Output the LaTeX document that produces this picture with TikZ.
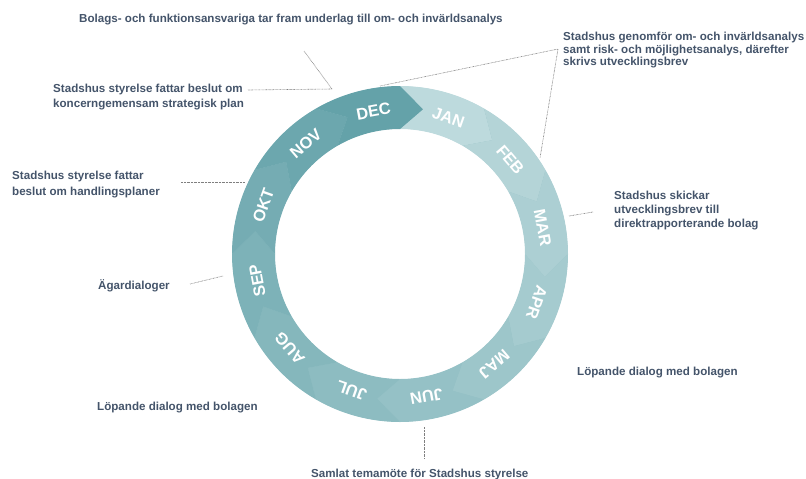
\documentclass[tikz,border=0pt]{standalone}
\usepackage{fontspec}
\setmainfont{Liberation Sans}
\usetikzlibrary{calc}
\definecolor{txt}{HTML}{44546A}
\definecolor{dotc}{HTML}{7F7F7F}
\definecolor{ringbase}{RGB}{150,194,199}
\begin{document}
\begin{tikzpicture}[x=1pt,y=1pt,
  lbl/.style={font=\fontsize{11.6}{14}\selectfont\bfseries, text=txt, inner sep=0pt, anchor=base west},
  mon/.style={font=\fontsize{16.4}{18}\selectfont\bfseries, text=white, inner sep=0pt},
  dots/.style={draw=dotc, line width=0.6pt, dash pattern=on 0.7pt off 0.7pt}]
\useasboundingbox (0,0) rectangle (806,-479);
\coordinate (C) at (400,-254);
% ring underlay (hides seams between segments)
\fill[ringbase, even odd rule] (C) circle[radius=167.6] (C) circle[radius=125.4];
% ring segments
\foreach \k/\m/\r/\g/\b in {0/JAN/189/218/221, 1/FEB/180/212/215, 2/MAR/172/207/211, 3/APR/165/203/207, 4/MAJ/157/198/202, 5/JUN/149/193/198, 6/JUL/141/188/193, 7/AUG/133/183/188, 8/SEP/125/178/184, 9/OKT/117/172/179, 10/NOV/108/167/174, 11/DEC/100/162/169} {
  \definecolor{segc}{RGB}{\r,\g,\b}
  \pgfmathsetmacro\aa{90-30*\k}
  \pgfmathsetmacro\ab{\aa-30}
  \fill[segc] ($(C)+(\aa:168)$) arc[start angle=\aa, end angle=\ab, radius=168]
     -- ($(C)+({\ab-9}:146.5)$) -- ($(C)+(\ab:125)$)
     arc[start angle=\ab, end angle=\aa, radius=125]
     -- ($(C)+({\aa-9}:146.5)$) -- cycle;
}
\foreach \k/\m in {0/JAN,1/FEB,2/MAR,3/APR,4/MAJ,5/JUN,6/JUL,7/AUG,8/SEP,9/OKT,10/NOV,11/DEC} {
  \pgfmathsetmacro\la{70.5-30*\k}
  \node[mon, rotate=\la-90] (m\m) at ($(C)+(\la:145)$) {\m};
}
% texts
\node[lbl] (top) at (79,-22) {Bolags- och funktionsansvariga tar fram underlag till om- och invärldsanalys};
\node[lbl] (gen1) at (563,-40) {Stadshus genomför om- och invärldsanalys};
\node[lbl] (gen2) at (563,-53) {samt risk- och möjlighetsanalys, därefter};
\node[lbl] (gen3) at (563,-65) {skrivs utvecklingsbrev};
\node[lbl] (str1) at (53,-92) {Stadshus styrelse fattar beslut om};
\node[lbl] (str2) at (53,-107) {koncerngemensam strategisk plan};
\node[lbl] (hp1) at (12,-179) {Stadshus styrelse fattar};
\node[lbl] (hp2) at (12,-195) {beslut om handlingsplaner};
\node[lbl] (ag) at (98,-289) {Ägardialoger};
\node[lbl] (sk1) at (614,-199) {Stadshus skickar};
\node[lbl] (sk2) at (614,-213) {utvecklingsbrev till};
\node[lbl] (sk3) at (614,-227) {direktrapporterande bolag};
\node[lbl] (lr) at (577,-375) {Löpande dialog med bolagen};
\node[lbl] (ll) at (97,-410) {Löpande dialog med bolagen};
\node[lbl] (sam) at (311,-477) {Samlat temamöte för Stadshus styrelse};
% connector points
\coordinate (q1) at (304,-51);
\coordinate (r1) at (332,-89);
\coordinate (s1) at (248,-90);
\coordinate (r2) at (380,-86);
\coordinate (k2) at (558,-49);
\coordinate (r3) at (540,-158);
\coordinate (h1) at (181,-182);
\coordinate (r4) at (245,-182);
\coordinate (a1) at (190,-284);
\coordinate (r5) at (223,-276);
\coordinate (r6) at (569,-216);
\coordinate (s6) at (593,-212);
\coordinate (r7) at (424,-427);
\coordinate (s7) at (424,-458);
% connectors
\draw[dots] (q1) -- (r1);
\draw[dots] (s1) -- (r1);
\draw[dots] (r2) -- (k2) -- (r3);
\draw[dots] (h1) -- (r4);
\draw[dots] (a1) -- (r5);
\draw[dots] (r6) -- (s6);
\draw[dots] (r7) -- (s7);
\end{tikzpicture}
\end{document}
